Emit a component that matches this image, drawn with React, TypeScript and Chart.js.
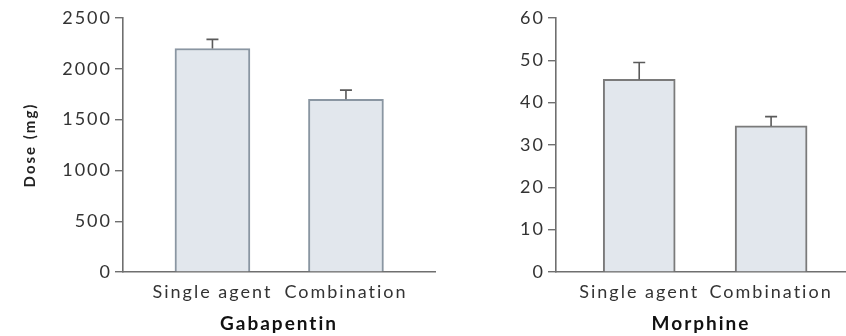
import React, { useEffect, useRef } from "react";
import { Chart, registerables } from "chart.js";

Chart.register(...registerables);

// Treatment groups shown on both panels
const categories = ["Single agent", "Combination"];

// Gabapentin daily dose (mg): mean and upper error
const gabapentinMean = [2200, 1700];
const gabapentinErr = [90, 90];
const gabapentinTicks = [0, 500, 1000, 1500, 2000, 2500];

// Morphine daily dose (mg): mean and upper error
const morphineMean = [45.5, 34.5];
const morphineErr = [4.0, 2.2];
const morphineTicks = [0, 10, 20, 30, 40, 50, 60];

const FONT = "Lato, 'DejaVu Sans', sans-serif";
const AXIS = "#6f6f6f";
const TEXT = "#333333";

// Slightly tracked-out lettering for all chart text
const spacingPlugin = {
  id: "letterSpacing",
  beforeLayout(chart: any) {
    chart.ctx.letterSpacing = "2px";
  },
  beforeDraw(chart: any) {
    chart.ctx.letterSpacing = "2px";
  },
};

const errorBarPlugin = {
  id: "errorBars",
  afterDatasetsDraw(chart: any, _args: any, opts: any) {
    const { ctx } = chart;
    const xs = chart.scales.x;
    const ys = chart.scales.y;
    const means: number[] = opts.means;
    const errs: number[] = opts.errs;
    ctx.save();
    ctx.strokeStyle = opts.color;
    ctx.lineWidth = 1.6;
    means.forEach((m, i) => {
      const x = xs.getPixelForValue(i);
      const y0 = ys.getPixelForValue(m);
      const y1 = ys.getPixelForValue(m + errs[i]);
      ctx.beginPath();
      ctx.moveTo(x, y0);
      ctx.lineTo(x, y1);
      ctx.moveTo(x - 6, y1);
      ctx.lineTo(x + 6, y1);
      ctx.stroke();
    });
    ctx.restore();
  },
};

type PanelProps = {
  left: number;
  width: number;
  means: number[];
  errs: number[];
  ticks: number[];
  title: string;
  yTitle?: string;
  axisWidth: number;
  padRight: number;
  xMin: number;
  xMax: number;
  barWidth: number;
  barBorder: string;
};

function Panel(p: PanelProps) {
  const ref = useRef<HTMLCanvasElement | null>(null);

  useEffect(() => {
    if (!ref.current) return;
    const yMax = p.ticks[p.ticks.length - 1];
    const chart = new Chart(ref.current, {
      type: "bar",
      data: {
        datasets: [
          {
            data: p.means.map((m, i) => ({ x: i, y: m })),
            backgroundColor: "#e2e7ed",
            borderColor: p.barBorder,
            borderWidth: 2,
            barThickness: p.barWidth,
          },
        ],
      },
      options: {
        animation: false,
        responsive: false,
        maintainAspectRatio: false,
        layout: { padding: { top: 18, right: p.padRight, left: 0, bottom: 0 } },
        plugins: {
          legend: { display: false },
          tooltip: { enabled: false },
          errorBars: { means: p.means, errs: p.errs, color: "#5a5a5a" },
        } as any,
        scales: {
          x: {
            type: "linear",
            offset: false,
            min: p.xMin,
            max: p.xMax,
            afterBuildTicks: (s: any) => {
              s.ticks = categories.map((_, i) => ({ value: i }));
            },
            afterFit: (s: any) => {
              s.height = 64;
            },
            grid: { display: false, drawTicks: false, offset: false },
            border: { display: true, color: AXIS, width: 1.6 },
            ticks: {
              autoSkip: false,
              maxRotation: 0,
              padding: 9,
              color: TEXT,
              font: { family: FONT, size: 18 },
              callback: (v: any) => categories[v] ?? "",
            },
            title: {
              display: true,
              text: p.title,
              color: "#111",
              font: { family: FONT, size: 19, weight: "bold" },
              padding: { top: 0, bottom: 1 },
            },
          },
          y: {
            min: 0,
            max: yMax,
            afterBuildTicks: (s: any) => {
              s.ticks = p.ticks.map((v) => ({ value: v }));
            },
            afterFit: (s: any) => {
              s.width = p.axisWidth;
            },
            grid: {
              display: true,
              drawOnChartArea: false,
              drawTicks: true,
              tickLength: 8,
              color: AXIS,
              lineWidth: 1.4,
            },
            border: { display: true, color: AXIS, width: 1.6 },
            ticks: {
              padding: 3,
              color: TEXT,
              font: { family: FONT, size: 18 },
              callback: (v: any) => String(v),
            },
            title: {
              display: !!p.yTitle,
              text: p.yTitle ?? "",
              color: "#222",
              font: { family: FONT, size: 15, weight: "bold" },
              padding: { top: 21, bottom: 0 },
            },
          },
        },
      } as any,
      plugins: [spacingPlugin, errorBarPlugin],
    });
    return () => chart.destroy();
  }, []);

  return (
    <canvas
      ref={ref}
      width={p.width}
      height={336}
      style={{ position: "absolute", left: p.left, top: 0, width: p.width, height: 336 }}
    />
  );
}

export default function App() {
  return (
    <div
      style={{
        position: "fixed",
        left: 0,
        top: 0,
        width: 846,
        height: 336,
        background: "#ffffff",
        overflow: "hidden",
      }}
    >
      <Panel
        left={0}
        width={440}
        means={gabapentinMean}
        errs={gabapentinErr}
        ticks={gabapentinTicks}
        title="Gabapentin"
        yTitle="Dose (mg)"
        axisWidth={123}
        padRight={5}
        xMin={-0.67}
        xMax={1.667}
        barWidth={75}
        barBorder="#8a96a2"
      />
      <Panel
        left={440}
        width={406}
        means={morphineMean}
        errs={morphineErr}
        ticks={morphineTicks}
        title="Morphine"
        axisWidth={116}
        padRight={0}
        xMin={-0.631}
        xMax={1.568}
        barWidth={72}
        barBorder="#7a7a7a"
      />
    </div>
  );
}
